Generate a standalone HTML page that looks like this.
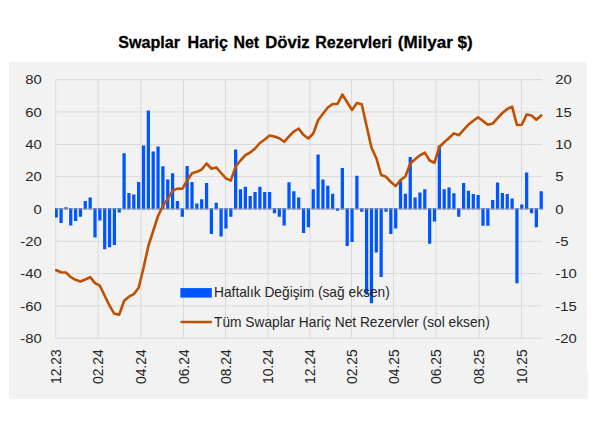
<!DOCTYPE html>
<html><head><meta charset="utf-8"><style>
html,body{margin:0;padding:0;background:#fff;}
body{width:612px;height:437px;overflow:hidden;}
svg{display:block;}
text{font-family:"Liberation Sans",sans-serif;}
.ax{font-size:13.5px;fill:#262626;}
.lg{font-size:13.75px;fill:#262626;}
.tt{font-size:17.3px;font-weight:bold;fill:#000;stroke:#000;stroke-width:0.3px;}
</style></head><body>
<svg width="612" height="437" viewBox="0 0 612 437">
<rect x="9" y="62" width="578" height="337" fill="#F2F2F2"/>
<rect x="586" y="373" width="2" height="26" fill="#F2F2F2"/>
<path d="M55.5 79.7H541.7 M55.5 112.0H541.7 M55.5 144.5H541.7 M55.5 176.6H541.7 M55.5 208.8H541.7 M55.5 241.3H541.7 M55.5 273.6H541.7 M55.5 305.9H541.7 M55.5 338.1H541.7 M55.7 79.7V338.1 M98.1 79.7V338.1 M141 79.7V338.1 M183.5 79.7V338.1 M225.5 79.7V338.1 M268 79.7V338.1 M310 79.7V338.1 M351.5 79.7V338.1 M393.5 79.7V338.1 M436 79.7V338.1 M479 79.7V338.1 M521.5 79.7V338.1" stroke="#D9D9D9" stroke-width="1" fill="none"/>
<path d="M55.00 208.00h2.83v9.40h-2.83zM59.43 208.00h3.25v15.10h-3.25zM64.28 207.20h3.25v2.30h-3.25zM69.12 208.00h3.25v17.50h-3.25zM73.97 208.00h3.25v13.10h-3.25zM78.83 208.00h3.25v8.70h-3.25zM83.67 201.00h3.25v8.50h-3.25zM88.53 197.40h3.25v12.10h-3.25zM93.38 208.00h3.25v29.50h-3.25zM98.22 208.00h3.25v12.40h-3.25zM103.08 208.00h3.25v41.30h-3.25zM107.92 208.00h3.25v39.30h-3.25zM112.78 208.00h3.25v36.90h-3.25zM117.62 208.00h3.25v4.50h-3.25zM122.47 153.20h3.25v56.30h-3.25zM127.32 193.00h3.25v16.50h-3.25zM132.18 194.50h3.25v15.00h-3.25zM137.02 182.10h3.25v27.40h-3.25zM141.88 145.40h3.25v64.10h-3.25zM146.72 110.40h3.25v99.10h-3.25zM151.57 151.50h3.25v58.00h-3.25zM156.43 146.40h3.25v63.10h-3.25zM161.27 166.20h3.25v43.30h-3.25zM166.12 179.50h3.25v30.00h-3.25zM170.97 173.30h3.25v36.20h-3.25zM175.82 201.00h3.25v8.50h-3.25zM180.68 208.00h3.25v8.70h-3.25zM185.52 166.00h3.25v43.50h-3.25zM190.38 181.90h3.25v27.60h-3.25zM195.22 203.50h3.25v6.00h-3.25zM200.07 199.30h3.25v10.20h-3.25zM204.93 183.10h3.25v26.40h-3.25zM209.77 208.00h3.25v25.90h-3.25zM214.62 202.80h3.25v6.70h-3.25zM219.47 208.00h3.25v28.50h-3.25zM224.32 208.00h3.25v20.50h-3.25zM229.18 208.00h3.25v8.70h-3.25zM234.02 149.60h3.25v59.90h-3.25zM238.88 189.30h3.25v20.20h-3.25zM243.72 186.80h3.25v22.70h-3.25zM248.57 196.10h3.25v13.40h-3.25zM253.43 192.00h3.25v17.50h-3.25zM258.27 186.80h3.25v22.70h-3.25zM263.12 192.00h3.25v17.50h-3.25zM267.97 192.00h3.25v17.50h-3.25zM272.82 208.00h3.25v5.30h-3.25zM277.68 208.00h3.25v8.70h-3.25zM282.52 208.00h3.25v17.50h-3.25zM287.38 182.20h3.25v27.30h-3.25zM292.22 191.20h3.25v18.30h-3.25zM297.07 197.40h3.25v12.10h-3.25zM301.93 208.00h3.25v24.90h-3.25zM306.77 208.00h3.25v19.20h-3.25zM311.62 189.30h3.25v20.20h-3.25zM316.47 154.50h3.25v55.00h-3.25zM321.32 179.50h3.25v30.00h-3.25zM326.17 185.80h3.25v23.70h-3.25zM331.02 193.70h3.25v15.80h-3.25zM335.87 208.00h3.25v2.80h-3.25zM340.72 168.00h3.25v41.50h-3.25zM345.57 208.00h3.25v38.10h-3.25zM350.42 208.00h3.25v33.90h-3.25zM355.27 175.80h3.25v33.70h-3.25zM360.12 208.00h3.25v3.80h-3.25zM364.97 208.00h3.25v86.40h-3.25zM369.82 208.00h3.25v95.20h-3.25zM374.67 208.00h3.25v44.50h-3.25zM379.52 208.00h3.25v69.00h-3.25zM384.37 208.00h3.25v3.80h-3.25zM389.22 208.00h3.25v25.90h-3.25zM394.07 208.00h3.25v20.50h-3.25zM398.92 181.00h3.25v28.50h-3.25zM403.77 193.70h3.25v15.80h-3.25zM408.62 156.90h3.25v52.60h-3.25zM413.47 197.40h3.25v12.10h-3.25zM418.32 192.50h3.25v17.00h-3.25zM423.17 189.30h3.25v20.20h-3.25zM428.02 208.00h3.25v35.70h-3.25zM432.87 208.00h3.25v13.60h-3.25zM437.72 145.40h3.25v64.10h-3.25zM442.57 189.30h3.25v20.20h-3.25zM447.42 187.60h3.25v21.90h-3.25zM452.27 193.20h3.25v16.30h-3.25zM457.12 208.00h3.25v8.70h-3.25zM461.97 183.10h3.25v26.40h-3.25zM466.82 190.70h3.25v18.80h-3.25zM471.67 194.00h3.25v15.50h-3.25zM476.52 195.00h3.25v14.50h-3.25zM481.37 208.00h3.25v17.70h-3.25zM486.22 208.00h3.25v17.70h-3.25zM491.07 200.00h3.25v9.50h-3.25zM495.92 182.40h3.25v27.10h-3.25zM500.77 193.10h3.25v16.40h-3.25zM505.62 194.10h3.25v15.40h-3.25zM510.48 198.50h3.25v11.00h-3.25zM515.32 208.00h3.25v75.20h-3.25zM520.17 204.40h3.25v5.10h-3.25zM525.02 172.50h3.25v37.00h-3.25zM529.88 208.00h3.25v5.20h-3.25zM534.73 208.00h3.25v19.20h-3.25zM539.57 191.20h3.25v18.30h-3.25z" fill="#0055FF"/>
<path d="M55.5 208.8H541.7" stroke="#A0A0A0" stroke-opacity="0.6" stroke-width="1.6" fill="none"/>
<polyline points="56.20,270.20 61.05,272.30 65.90,272.50 70.75,277.10 75.60,279.80 80.45,281.50 85.30,279.50 90.15,277.10 95.00,283.10 99.85,285.70 104.70,295.80 109.55,305.70 114.40,313.80 119.25,314.60 124.10,300.80 128.95,296.70 133.80,294.20 138.65,287.70 143.50,268.00 148.35,246.00 153.20,231.00 158.05,216.00 162.90,205.80 167.75,198.90 172.60,190.70 177.45,188.60 182.30,188.80 187.15,180.50 192.00,173.20 196.85,171.80 201.70,169.50 206.55,163.50 211.40,168.70 216.25,167.40 221.10,173.00 225.95,178.40 230.80,180.70 235.65,166.30 240.50,160.50 245.35,155.20 250.20,152.50 255.05,148.50 259.90,143.00 264.75,139.50 269.60,135.50 274.45,136.50 279.30,138.30 284.15,141.80 289.00,136.30 293.85,131.50 298.70,128.60 303.55,135.00 308.40,138.50 313.25,133.50 318.10,120.30 322.95,113.80 327.80,107.50 332.65,104.00 337.50,104.00 342.35,94.50 347.20,102.30 352.05,110.00 356.90,103.00 361.75,104.20 366.60,126.00 371.45,147.50 376.30,158.20 381.15,175.00 386.00,176.80 390.85,182.00 395.70,186.00 400.55,180.00 405.40,176.50 410.25,163.50 415.10,159.30 419.95,155.30 424.80,152.60 429.65,160.50 434.50,162.70 439.35,147.00 444.20,142.30 449.05,138.00 453.90,133.40 458.75,135.30 463.60,129.80 468.45,124.60 473.30,120.80 478.15,117.30 483.00,121.00 487.85,124.80 492.70,123.60 497.55,118.20 502.40,113.00 507.25,109.00 512.10,106.70 516.95,125.00 521.80,124.80 526.65,114.50 531.50,115.50 536.35,119.70 541.20,115.50" fill="none" stroke="#C05000" stroke-width="2.6" stroke-linejoin="round" stroke-linecap="round"/>
<text transform="translate(41.8 84.4) scale(1.1 1)" text-anchor="end" class="ax">80</text>
<text transform="translate(41.8 116.7) scale(1.1 1)" text-anchor="end" class="ax">60</text>
<text transform="translate(41.8 149.2) scale(1.1 1)" text-anchor="end" class="ax">40</text>
<text transform="translate(41.8 181.29999999999998) scale(1.1 1)" text-anchor="end" class="ax">20</text>
<text transform="translate(41.8 213.5) scale(1.1 1)" text-anchor="end" class="ax">0</text>
<text transform="translate(41.8 246.0) scale(1.1 1)" text-anchor="end" class="ax">-20</text>
<text transform="translate(41.8 278.3) scale(1.1 1)" text-anchor="end" class="ax">-40</text>
<text transform="translate(41.8 310.59999999999997) scale(1.1 1)" text-anchor="end" class="ax">-60</text>
<text transform="translate(41.8 342.8) scale(1.1 1)" text-anchor="end" class="ax">-80</text>
<text transform="translate(555.3 84.4) scale(1.1 1)" class="ax">20</text>
<text transform="translate(555.3 116.7) scale(1.1 1)" class="ax">15</text>
<text transform="translate(555.3 149.2) scale(1.1 1)" class="ax">10</text>
<text transform="translate(555.3 181.29999999999998) scale(1.1 1)" class="ax">5</text>
<text transform="translate(555.3 213.5) scale(1.1 1)" class="ax">0</text>
<text transform="translate(555.3 246.0) scale(1.1 1)" class="ax">-5</text>
<text transform="translate(555.3 278.3) scale(1.1 1)" class="ax">-10</text>
<text transform="translate(555.3 310.59999999999997) scale(1.1 1)" class="ax">-15</text>
<text transform="translate(555.3 342.8) scale(1.1 1)" class="ax">-20</text>
<text transform="translate(60.800000000000004 349.3) rotate(-90) scale(1.03 1.1)" text-anchor="end" class="ax">12.23</text>
<text transform="translate(103.19999999999999 349.3) rotate(-90) scale(1.03 1.1)" text-anchor="end" class="ax">02.24</text>
<text transform="translate(146.1 349.3) rotate(-90) scale(1.03 1.1)" text-anchor="end" class="ax">04.24</text>
<text transform="translate(188.6 349.3) rotate(-90) scale(1.03 1.1)" text-anchor="end" class="ax">06.24</text>
<text transform="translate(230.6 349.3) rotate(-90) scale(1.03 1.1)" text-anchor="end" class="ax">08.24</text>
<text transform="translate(273.1 349.3) rotate(-90) scale(1.03 1.1)" text-anchor="end" class="ax">10.24</text>
<text transform="translate(315.1 349.3) rotate(-90) scale(1.03 1.1)" text-anchor="end" class="ax">12.24</text>
<text transform="translate(356.6 349.3) rotate(-90) scale(1.03 1.1)" text-anchor="end" class="ax">02.25</text>
<text transform="translate(398.6 349.3) rotate(-90) scale(1.03 1.1)" text-anchor="end" class="ax">04.25</text>
<text transform="translate(441.1 349.3) rotate(-90) scale(1.03 1.1)" text-anchor="end" class="ax">06.25</text>
<text transform="translate(484.1 349.3) rotate(-90) scale(1.03 1.1)" text-anchor="end" class="ax">08.25</text>
<text transform="translate(526.6 349.3) rotate(-90) scale(1.03 1.1)" text-anchor="end" class="ax">10.25</text>
<rect x="180.4" y="288.1" width="31.4" height="9.5" fill="#0055FF"/>
<path d="M181.5 322.1H210.8" stroke="#C05000" stroke-width="2.5" stroke-linecap="round"/>
<text x="214.0" y="297.2" class="lg">Haftalık Değişim (sağ eksen)</text>
<text x="214.0" y="326.8" class="lg">Tüm Swaplar Hariç Net Rezervler (sol eksen)</text>
<text x="118.2" y="47.6" textLength="61.8" lengthAdjust="spacingAndGlyphs" class="tt">Swaplar</text>
<text x="187.6" y="47.6" textLength="40.4" lengthAdjust="spacingAndGlyphs" class="tt">Hariç</text>
<text x="233.39999999999998" y="47.6" textLength="25.7" lengthAdjust="spacingAndGlyphs" class="tt">Net</text>
<text x="265.2" y="47.6" textLength="44.5" lengthAdjust="spacingAndGlyphs" class="tt">Döviz</text>
<text x="315.2" y="47.6" textLength="76.7" lengthAdjust="spacingAndGlyphs" class="tt">Rezervleri</text>
<text x="397.8" y="47.6" textLength="74.9" lengthAdjust="spacingAndGlyphs" class="tt">(Milyar $)</text>
</svg>
</body></html>
